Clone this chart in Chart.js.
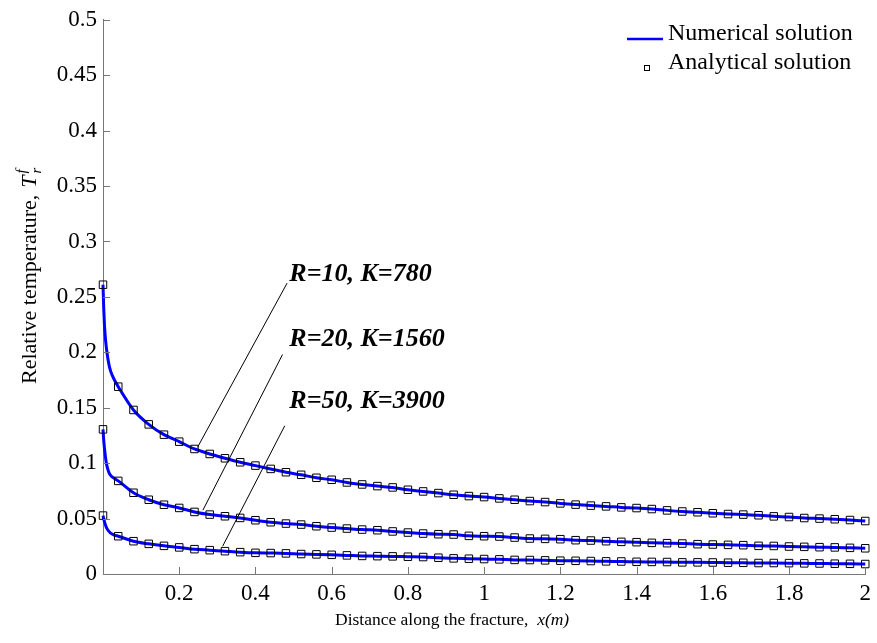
<!DOCTYPE html>
<html>
<head>
<meta charset="utf-8">
<title>Relative temperature along the fracture</title>
<script src="https://cdn.jsdelivr.net/npm/chart.js@4.4.1/dist/chart.umd.min.js"></script>
<style>
  body { margin: 0; background: #fff; }
  #temp-chart { display: block; }
</style>
</head>
<body>
<canvas id="temp-chart" width="877" height="643"></canvas>
<script>
// distance along the fracture (m), one analytical point every 0.04 m
const distances = [0, 0.04, 0.08, 0.12, 0.16, 0.2, 0.24, 0.28, 0.32, 0.36,
  0.4, 0.44, 0.48, 0.52, 0.56, 0.6, 0.64, 0.68, 0.72, 0.76,
  0.8, 0.84, 0.88, 0.92, 0.96, 1, 1.04, 1.08, 1.12, 1.16,
  1.2, 1.24, 1.28, 1.32, 1.36, 1.4, 1.44, 1.48, 1.52, 1.56,
  1.6, 1.64, 1.68, 1.72, 1.76, 1.8, 1.84, 1.88, 1.92, 1.96, 2];

// analytical solution (squares)
const analyticR10 = [0.261, 0.169, 0.148, 0.135, 0.1257, 0.1194, 0.1128, 0.1083, 0.1044, 0.1008,
  0.0978, 0.0948, 0.0918, 0.0895, 0.0868, 0.085, 0.0826, 0.0808, 0.0793, 0.0781,
  0.076, 0.0745, 0.073, 0.0715, 0.0703, 0.0694, 0.0682, 0.067, 0.0658, 0.0649,
  0.0637, 0.0626, 0.0617, 0.061, 0.0601, 0.0595, 0.0586, 0.0574, 0.0564, 0.0557,
  0.0548, 0.0541, 0.0536, 0.053, 0.052, 0.0514, 0.0505, 0.05, 0.0494, 0.0487, 0.0478];
const analyticR20 = [0.1305, 0.084, 0.0733, 0.067, 0.0625, 0.0596, 0.056, 0.0536, 0.0521, 0.0506,
  0.0485, 0.0467, 0.0455, 0.0446, 0.0431, 0.0419, 0.041, 0.0401, 0.0395, 0.0384,
  0.0374, 0.0365, 0.0359, 0.0356, 0.0344, 0.0341, 0.0338, 0.0329, 0.032, 0.0317,
  0.0314, 0.0305, 0.0302, 0.0296, 0.029, 0.0287, 0.0281, 0.0278, 0.0275, 0.0269,
  0.0266, 0.0263, 0.026, 0.0254, 0.0253, 0.0248, 0.0245, 0.0242, 0.024, 0.0236, 0.0232];
const analyticR50 = [0.0527, 0.0341, 0.0296, 0.0272, 0.0254, 0.024, 0.0224, 0.0215, 0.0206, 0.0197,
  0.0191, 0.0189, 0.0186, 0.018, 0.0177, 0.0173, 0.0168, 0.0163, 0.0161, 0.0159,
  0.0156, 0.0153, 0.0147, 0.0141, 0.0138, 0.0135, 0.0132, 0.0127, 0.0126, 0.0123,
  0.012, 0.0119, 0.0117, 0.0114, 0.0113, 0.011, 0.0109, 0.0108, 0.0105, 0.0105,
  0.0104, 0.0102, 0.0101, 0.0099, 0.0099, 0.0098, 0.0096, 0.0095, 0.0093, 0.0092, 0.009];

// numerical solution: steep drop right at the inlet, then same as the squares
const numHeadX = [0, 0.002, 0.004, 0.007, 0.01, 0.015, 0.02, 0.03];
const numHeadR10 = [0.261, 0.239, 0.2235, 0.21, 0.201, 0.19, 0.183, 0.175];
const numHeadR20 = [0.1305, 0.12, 0.113, 0.104, 0.098, 0.092, 0.089, 0.0862];
const numHeadR50 = [0.0527, 0.0495, 0.047, 0.0437, 0.0412, 0.0387, 0.0369, 0.0351];

const xTicks = [0.2, 0.4, 0.6, 0.8, 1, 1.2, 1.4, 1.6, 1.8, 2];
const yTicks = [0, 0.05, 0.1, 0.15, 0.2, 0.25, 0.3, 0.35, 0.4, 0.45, 0.5];

const caseLabels = ['R=10, K=780', 'R=20, K=1560', 'R=50, K=3900'];
const caseLabelAt = [[0.489, 0.264], [0.489, 0.2056], [0.489, 0.15]];
const leaderStart = [[0.483, 0.2624], [0.471, 0.198], [0.477, 0.1338]];
const leaderEnd = [[0.248, 0.1143], [0.262, 0.0575], [0.314, 0.0251]];

const FONT = 'Liberation Serif';

function toPoints(xs, ys) {
  return xs.map((x, i) => ({ x: x, y: ys[i] }));
}

function numericalPoints(headY, analytic) {
  const head = toPoints(numHeadX, headY);
  const rest = toPoints(distances.slice(1), analytic.slice(1));
  return head.concat(rest);
}

function lineSet(data) {
  return {
    label: 'Numerical solution',
    data: data,
    showLine: true,
    borderColor: '#0000ff',
    borderWidth: 3,
    pointRadius: 0,
    cubicInterpolationMode: 'monotone',
    order: 2,
    clip: false
  };
}

function squareSet(data) {
  return {
    label: 'Analytical solution',
    data: data,
    showLine: false,
    pointStyle: 'rect',
    pointRadius: 5.3,
    borderColor: '#000',
    backgroundColor: 'rgba(0,0,0,0)',
    pointBorderWidth: 1,
    order: 1,
    clip: false
  };
}

// inward tick marks, axis titles, legend and the case labels
const decorPlugin = {
  id: 'decor',
  afterDraw(chart) {
    const ctx = chart.ctx;
    const xs = chart.scales.x;
    const ys = chart.scales.y;
    const area = chart.chartArea;

    ctx.save();
    ctx.strokeStyle = '#777';
    ctx.lineWidth = 1;
    ctx.beginPath();
    xTicks.forEach(v => {
      const px = Math.round(xs.getPixelForValue(v)) + 0.5;
      ctx.moveTo(px, area.bottom);
      ctx.lineTo(px, area.bottom - 7);
    });
    yTicks.forEach(v => {
      const py = Math.round(ys.getPixelForValue(v)) + 0.5;
      ctx.moveTo(area.left, py);
      ctx.lineTo(area.left + 7, py);
    });
    ctx.stroke();

    // leader lines and case labels
    ctx.strokeStyle = '#000';
    ctx.beginPath();
    leaderStart.forEach((p, i) => {
      ctx.moveTo(xs.getPixelForValue(p[0]), ys.getPixelForValue(p[1]));
      ctx.lineTo(xs.getPixelForValue(leaderEnd[i][0]), ys.getPixelForValue(leaderEnd[i][1]));
    });
    ctx.stroke();
    ctx.fillStyle = '#000';
    ctx.font = 'italic bold 26px ' + FONT;
    ctx.textBaseline = 'alphabetic';
    ctx.textAlign = 'left';
    caseLabels.forEach((t, i) => {
      ctx.fillText(t, xs.getPixelForValue(caseLabelAt[i][0]), ys.getPixelForValue(caseLabelAt[i][1]));
    });

    // x axis title
    ctx.font = '17.5px ' + FONT;
    const xTitle = 'Distance along the fracture,  ';
    const xw = ctx.measureText(xTitle).width;
    ctx.fillText(xTitle, 335, 625);
    ctx.font = 'italic 17.5px ' + FONT;
    ctx.fillText('x(m)', 335 + xw, 625);

    // y axis title, rotated
    ctx.save();
    ctx.translate(36, 384);
    ctx.rotate(-Math.PI / 2);
    ctx.font = '22px ' + FONT;
    const yTitle = 'Relative temperature,  ';
    ctx.fillText(yTitle, 0, 0);
    const yw = ctx.measureText(yTitle).width;
    ctx.font = 'italic 22px ' + FONT;
    ctx.fillText('T', yw - 4, 0);
    const tw = ctx.measureText('T').width;
    ctx.font = 'italic 15px ' + FONT;
    ctx.fillText('f', yw + tw - 2, -10);
    ctx.fillText('r', yw + tw - 2, 5);
    ctx.restore();

    // legend
    ctx.strokeStyle = '#0000ff';
    ctx.lineWidth = 2.5;
    ctx.beginPath();
    ctx.moveTo(627, 39);
    ctx.lineTo(663, 39);
    ctx.stroke();
    ctx.strokeStyle = '#000';
    ctx.lineWidth = 1;
    ctx.strokeRect(644.5, 65.5, 5, 5);
    ctx.font = '24px ' + FONT;
    ctx.fillText(chart.data.datasets[0].label, 668, 40);
    ctx.fillText(chart.data.datasets[3].label, 668, 69);
    ctx.restore();
  }
};

const ctx = document.getElementById('temp-chart').getContext('2d');

new Chart(ctx, {
  type: 'scatter',
  data: {
    datasets: [
      lineSet(numericalPoints(numHeadR10, analyticR10)),
      lineSet(numericalPoints(numHeadR20, analyticR20)),
      lineSet(numericalPoints(numHeadR50, analyticR50)),
      squareSet(toPoints(distances, analyticR10)),
      squareSet(toPoints(distances, analyticR20)),
      squareSet(toPoints(distances, analyticR50))
    ]
  },
  options: {
    responsive: false,
    animation: false,
    devicePixelRatio: 1,
    layout: { padding: { left: 0, top: 17, right: 10, bottom: 0 } },
    plugins: {
      legend: { display: false },
      tooltip: { enabled: false }
    },
    scales: {
      x: {
        type: 'linear',
        min: 0,
        max: 2,
        afterBuildTicks: scale => { scale.ticks = xTicks.map(v => ({ value: v })); },
        afterFit: scale => { scale.height = 69; },
        grid: { display: false, drawTicks: false },
        border: { display: true, color: '#777', width: 1 },
        ticks: {
          padding: 6,
          color: '#000',
          font: { family: FONT, size: 23 },
          maxRotation: 0,
          callback: v => String(+v.toFixed(2))
        }
      },
      y: {
        type: 'linear',
        min: 0,
        max: 0.5,
        afterBuildTicks: scale => { scale.ticks = yTicks.map(v => ({ value: v })); },
        afterFit: scale => { scale.width = 103; },
        grid: { display: false, drawTicks: false },
        border: { display: true, color: '#777', width: 1 },
        ticks: {
          padding: 6,
          color: '#000',
          font: { family: FONT, size: 23 },
          callback: v => String(+v.toFixed(2))
        }
      }
    }
  },
  plugins: [decorPlugin]
});
</script>
</body>
</html>
